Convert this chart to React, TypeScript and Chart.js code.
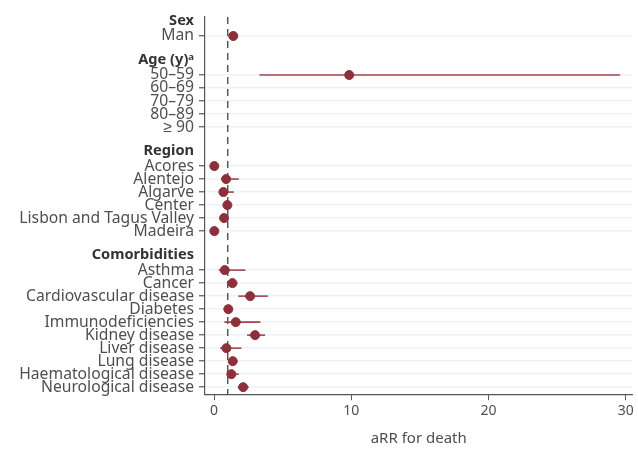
import React, { useEffect, useRef } from "react";
import { Chart, registerables } from "chart.js";

Chart.register(...registerables);

// Row labels (data rows) and their row positions
const rowLabels = [
  "Man",
  "50–59", "60–69", "70–79", "80–89", "≥ 90",
  "Acores", "Alentejo", "Algarve", "Center", "Lisbon and Tagus Valley", "Madeira",
  "Asthma", "Cancer", "Cardiovascular disease", "Diabetes", "Immunodeficiencies",
  "Kidney disease", "Liver disease", "Lung disease", "Haematological disease", "Neurological disease",
];
const rowPositions = [0, 3, 4, 5, 6, 7, 10, 11, 12, 13, 14, 15, 18, 19, 20, 21, 22, 23, 24, 25, 26, 27];

// Group headers and their positions
const headerLabels = ["Sex", "Age (y)ᵃ", "Region", "Comorbidities"];
const headerPositions = [-1.2, 1.8, 8.85, 16.85];

// aRR estimates and 95% CI
const estimates: (number | null)[] = [
  1.4,
  9.85, null, null, null, null,
  0.02, 0.88, 0.68, 0.97, 0.73, 0.02,
  0.78, 1.34, 2.63, 1.04, 1.58, 2.99, 0.9, 1.36, 1.26, 2.12,
];
const lowerCI: (number | null)[] = [
  1.3,
  3.3, null, null, null, null,
  null, 0.5, 0.6, 0.9, 0.65, null,
  0.34, 1.07, 1.77, 0.95, 0.75, 2.41, 0.44, 1.1, 1.0, 1.73,
];
const upperCI: (number | null)[] = [
  1.5,
  29.6, null, null, null, null,
  null, 1.8, 1.44, 1.05, 0.82, null,
  2.28, 1.7, 3.92, 1.12, 3.38, 3.72, 1.99, 1.7, 1.8, 2.53,
];

const xTicks = [0, 10, 20, 30];
const referenceLine = 1;

const RED = "#8e2f3c";
const CI_COLOR = "#a04550";
const TEXT = "#4f4f4f";
const FONT = "'Noto Sans', sans-serif";

export default function App() {
  const ref = useRef<HTMLCanvasElement | null>(null);

  useEffect(() => {
    if (!ref.current) return;

    const allPos = [...headerPositions, ...rowPositions];
    const labelAt = (v: number) => {
      const hi = headerPositions.findIndex((p) => Math.abs(p - v) < 1e-6);
      if (hi >= 0) return headerLabels[hi];
      const ri = rowPositions.findIndex((p) => Math.abs(p - v) < 1e-6);
      return ri >= 0 ? rowLabels[ri] : "";
    };
    const isHeader = (v: number) => headerPositions.some((p) => Math.abs(p - v) < 1e-6);

    const ciPlugin = {
      id: "ciAndRef",
      beforeDatasetsDraw(chart: any) {
        const { ctx, scales, chartArea } = chart;
        const xs = scales.x;
        const ys = scales.y;
        ctx.save();
        // reference line
        const rx = xs.getPixelForValue(referenceLine);
        ctx.strokeStyle = "#333";
        ctx.lineWidth = 1.2;
        ctx.setLineDash([7, 5]);
        ctx.beginPath();
        ctx.moveTo(rx, chartArea.top);
        ctx.lineTo(rx, chartArea.bottom);
        ctx.stroke();
        ctx.setLineDash([]);
        // CI lines
        ctx.strokeStyle = CI_COLOR;
        ctx.lineWidth = 1.6;
        for (let i = 0; i < rowPositions.length; i++) {
          const lo = lowerCI[i];
          const hi = upperCI[i];
          if (lo == null || hi == null) continue;
          const y = ys.getPixelForValue(rowPositions[i]);
          ctx.beginPath();
          ctx.moveTo(xs.getPixelForValue(lo), y);
          ctx.lineTo(xs.getPixelForValue(hi), y);
          ctx.stroke();
        }
        ctx.restore();
      },
    };

    const chart = new Chart(ref.current, {
      type: "scatter",
      data: {
        datasets: [
          {
            data: rowPositions
              .map((p, i) => ({ x: estimates[i], y: p }))
              .filter((d) => d.x != null) as any,
            backgroundColor: RED,
            borderColor: RED,
            pointRadius: 4.5,
            pointHoverRadius: 4.5,
          },
        ],
      },
      options: {
        animation: false,
        responsive: true,
        maintainAspectRatio: false,
        layout: { padding: { top: 17, right: 0, bottom: 0, left: 0 } },
        plugins: { legend: { display: false }, tooltip: { enabled: false } },
        scales: {
          x: {
            type: "linear",
            min: -0.66,
            max: 30.5,
            afterBuildTicks: (axis: any) => {
              axis.ticks = xTicks.map((v) => ({ value: v }));
            },
            grid: {
              display: true,
              drawOnChartArea: false,
              drawTicks: true,
              tickLength: 6,
              color: "#555",
            },
            border: { display: true, color: "#555", width: 1.2 },
            ticks: {
              color: TEXT,
              font: { family: FONT, size: 14 },
              padding: 2,
            },
            title: {
              display: true,
              text: "aRR for death",
              color: TEXT,
              font: { family: FONT, size: 15 },
              padding: { top: 9, bottom: 2 },
            },
          },
          y: {
            type: "linear",
            reverse: true,
            min: -1.46,
            max: 27.54,
            afterBuildTicks: (axis: any) => {
              axis.ticks = allPos.map((v) => ({ value: v }));
            },
            afterFit: (axis: any) => {
              axis.width = 205;
            },
            grid: {
              display: true,
              drawOnChartArea: true,
              drawTicks: true,
              tickLength: 6,
              lineWidth: (c: any) => (c.tick && isHeader(c.tick.value) ? 0 : 1.5),
              color: (c: any) => (c.tick && isHeader(c.tick.value) ? "rgba(0,0,0,0)" : "#edf2f4"),
              tickColor: (c: any) => (c.tick && isHeader(c.tick.value) ? "rgba(0,0,0,0)" : "#555"),
              tickWidth: 1.2,
            } as any,
            border: { display: true, color: "#555", width: 1.2 },
            ticks: {
              autoSkip: false,
              color: (c: any) => (c.tick && isHeader(c.tick.value) ? "#333" : TEXT),
              font: (c: any) =>
                c.tick && isHeader(c.tick.value)
                  ? { family: FONT, size: 14.6, weight: "bold" }
                  : { family: FONT, size: 15.7 },
              padding: 5,
              callback: (v: any) => labelAt(Number(v)),
            } as any,
          },
        },
      },
      plugins: [ciPlugin],
    });

    return () => chart.destroy();
  }, []);

  return (
    <div style={{ position: "fixed", left: 0, top: 0, width: 638, height: 450, background: "#fff" }}>
      <canvas ref={ref} />
    </div>
  );
}
